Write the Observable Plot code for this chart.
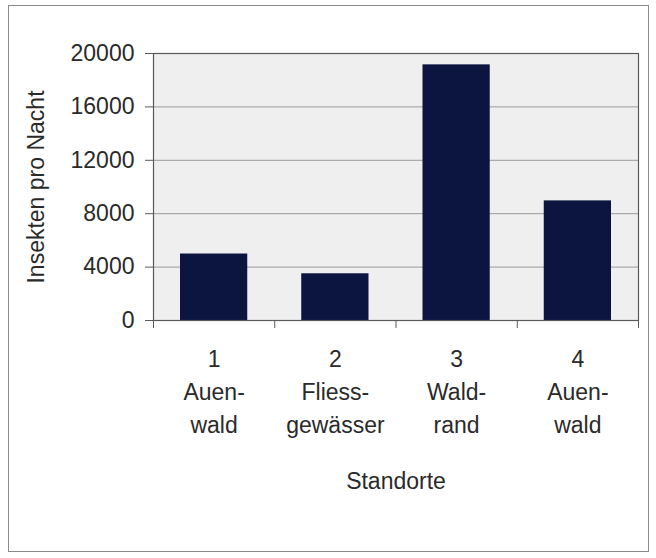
<!DOCTYPE html>
<html>
<head>
<meta charset="utf-8">
<script src="https://cdn.jsdelivr.net/npm/d3@7"></script>
<script src="https://cdn.jsdelivr.net/npm/@observablehq/plot@0.6"></script>
<style>
  html, body { margin: 0; padding: 0; background: #fff; }
  #wrap { position: relative; width: 656px; height: 558px; overflow: hidden; }
  #border { position: absolute; left: 8px; top: 5px; width: 641px; height: 547px; border: 1.5px solid #8a8a8a; box-sizing: border-box; pointer-events: none; }
  #wrap svg { position: absolute; left: 0; top: 0; }
</style>
</head>
<body>
<div id="wrap"><div id="border"></div></div>
<script>
const sites = ["1\nAuen-\nwald", "2\nFliess-\ngewässer", "3\nWald-\nrand", "4\nAuen-\nwald"];
const positions = [1, 2, 3, 4];
const insects = [4980, 3500, 19150, 8960];
const yTicks = [0, 4000, 8000, 12000, 16000, 20000];
const xBoundaries = [0.5, 1.5, 2.5, 3.5, 4.5];
const yLabel = "Insekten pro Nacht";
const xLabel = "Standorte";

const data = positions.map((p, i) => ({pos: p, site: sites[i], value: insects[i]}));

const font = "'Liberation Sans', Arial, Helvetica, sans-serif";
const fs = 23;

const chart = Plot.plot({
  width: 656,
  height: 558,
  marginLeft: 153,
  marginRight: 18,
  marginTop: 53,
  marginBottom: 238,
  style: {fontFamily: font, fontSize: fs + "px", color: "#2a2a2a", background: "transparent", overflow: "visible"},
  x: {type: "linear", domain: [0.5, 4.5]},
  y: {domain: [0, 20000]},
  marks: [
    Plot.frame({fill: "#efefef", stroke: "none"}),
    Plot.ruleY(yTicks.slice(1, -1), {stroke: "#9a9a9a", strokeWidth: 1}),
    Plot.rectY(data, {x1: d => d.pos - 0.5, x2: d => d.pos + 0.5, y: "value", insetLeft: 27, insetRight: 27, fill: "#0b1540"}),
    Plot.frame({stroke: "#5a5a5a", strokeWidth: 1.2}),
    Plot.axisY({ticks: yTicks, tickFormat: d3.format("d"), tickSize: 8, tickPadding: 11, fontSize: fs, stroke: "#5a5a5a", label: yLabel, labelAnchor: "center", labelArrow: "none", labelOffset: 126}),
    Plot.axisX({ticks: xBoundaries, tickFormat: () => "", tickSize: 8, stroke: "#5a5a5a", label: null}),
    Plot.text(data, {x: "pos", text: "site", frameAnchor: "bottom", lineAnchor: "top", dy: 23, lineHeight: 1.43, fontSize: fs, fill: "#2a2a2a"}),
    Plot.text([xLabel], {text: d => d, x: [2.5], frameAnchor: "bottom", dy: 168, fontSize: fs, fill: "#2a2a2a"})
  ]
});
document.getElementById("wrap").appendChild(chart);
</script>
</body>
</html>
